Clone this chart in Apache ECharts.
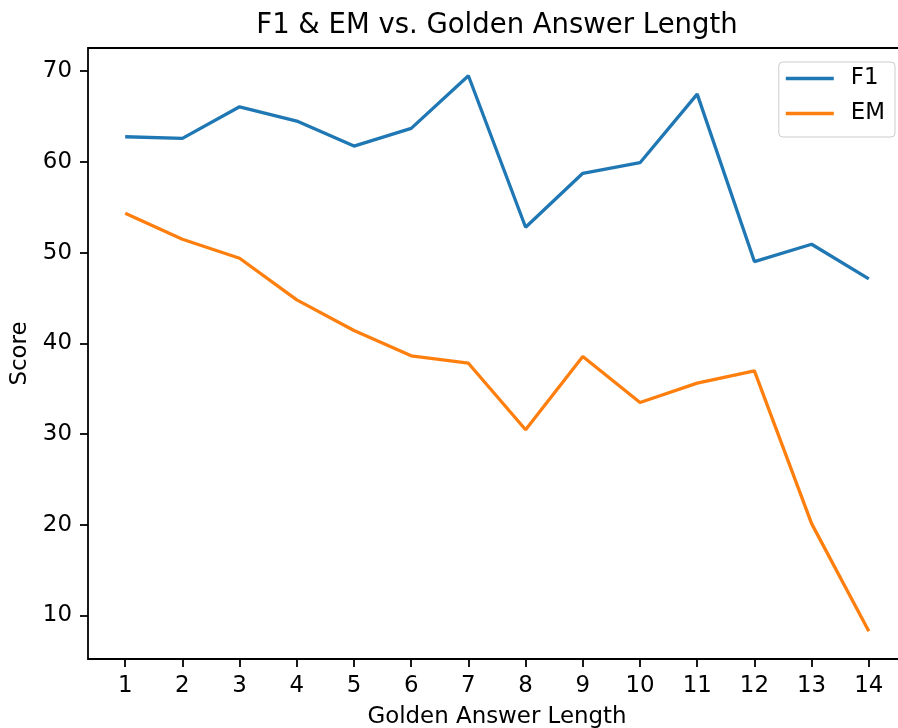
<!DOCTYPE html>
<html>
<head>
<meta charset="utf-8">
<script src="https://cdn.jsdelivr.net/npm/echarts@6/dist/echarts.min.js"></script>
<style>html,body{margin:0;padding:0;background:#fff}#c{width:898px;height:728px}</style>
</head>
<body>
<div id="c"></div>
<script>
var lengths = [1, 2, 3, 4, 5, 6, 7, 8, 9, 10, 11, 12, 13, 14];
var f1 = [62.77, 62.59, 66.07, 64.5, 61.74, 63.69, 69.49, 52.79, 58.74, 59.91, 67.47, 49.01, 50.92, 47.1];
var em = [54.33, 51.47, 49.38, 44.79, 41.41, 38.62, 37.81, 30.48, 38.55, 33.48, 35.61, 36.97, 20.13, 8.27];
var yTicks = [10, 20, 30, 40, 50, 60, 70];
var xTicks = [1, 2, 3, 4, 5, 6, 7, 8, 9, 10, 11, 12, 13, 14];

var FONT = 'DejaVu Sans';
function pairs(xs, ys) { return xs.map(function (x, i) { return [x, ys[i]]; }); }

var chart = echarts.init(document.getElementById('c'), null, { renderer: 'canvas' });
chart.setOption({
  animation: false,
  backgroundColor: '#fff',
  title: {
    text: 'F1 & EM vs. Golden Answer Length',
    left: 497, top: 12, padding: 0, textAlign: 'center',
    textStyle: { fontFamily: FONT, fontSize: 27.5, fontWeight: 'normal', color: '#000' }
  },
  legend: {
    data: ['F1', 'EM'],
    orient: 'vertical',
    right: 3, top: 62,
    icon: 'rect',
    itemWidth: 48, itemHeight: 3.4, itemGap: 12,
    padding: [5, 10, 12, 7],
    backgroundColor: 'rgba(255,255,255,0.8)',
    borderColor: '#cccccc', borderWidth: 1, borderRadius: 4,
    textStyle: { fontFamily: FONT, fontSize: 22.9, color: '#000', lineHeight: 23, padding: [0, 0, 0, 12] }
  },
  grid: {
    left: 88, width: 818, top: 48, bottom: 69,
    outerBoundsMode: 'none', containLabel: false,
    show: true, borderColor: '#000', borderWidth: 1.8, backgroundColor: 'transparent'
  },
  xAxis: {
    type: 'value', min: 0.35, max: 14.65,
    name: 'Golden Answer Length', nameLocation: 'middle', nameGap: 47,
    nameTextStyle: { fontFamily: FONT, fontSize: 22.9, color: '#000' },
    axisLine: { show: false },
    splitLine: { show: false },
    axisTick: { show: true, length: 8, lineStyle: { color: '#000', width: 1.8 }, customValues: xTicks },
    axisLabel: { margin: 16, fontFamily: FONT, fontSize: 22.9, color: '#000', customValues: xTicks }
  },
  yAxis: {
    type: 'value', min: 5.21, max: 72.55,
    name: 'Score', nameLocation: 'middle', nameGap: 56, nameRotate: 90,
    nameTextStyle: { fontFamily: FONT, fontSize: 22.9, color: '#000' },
    axisLine: { show: false },
    splitLine: { show: false },
    axisTick: { show: true, length: 8, lineStyle: { color: '#000', width: 1.8 }, customValues: yTicks },
    axisLabel: { margin: 16, fontFamily: FONT, fontSize: 22.9, color: '#000', customValues: yTicks }
  },
  series: [
    { name: 'F1', type: 'line', data: pairs(lengths, f1), symbol: 'none',
      lineStyle: { color: '#1f77b4', width: 3.3 }, itemStyle: { color: '#1f77b4' } },
    { name: 'EM', type: 'line', data: pairs(lengths, em), symbol: 'none',
      lineStyle: { color: '#ff7f0e', width: 3.3 }, itemStyle: { color: '#ff7f0e' } }
  ]
});
</script>
</body>
</html>
